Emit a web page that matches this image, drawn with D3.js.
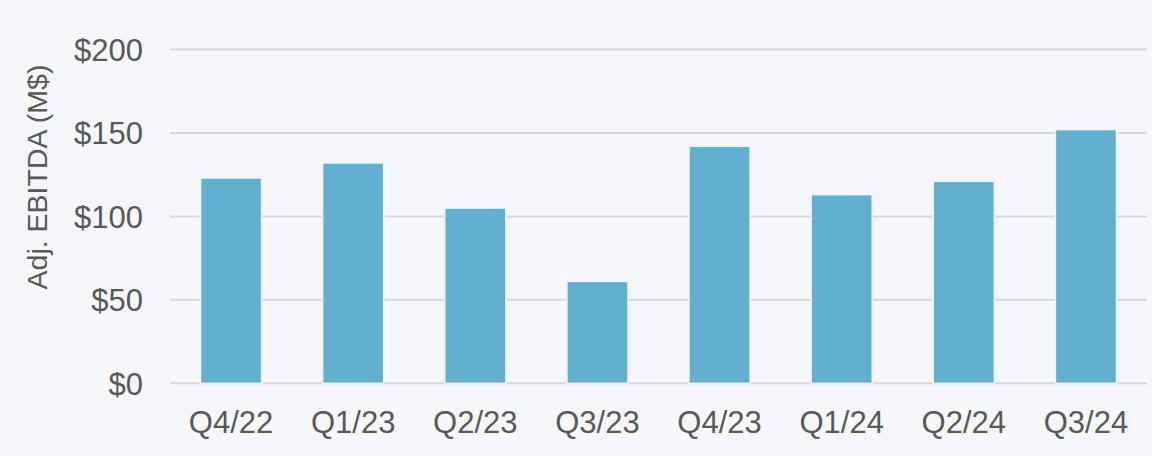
<!DOCTYPE html>
<html><head><meta charset="utf-8">
<script src="https://cdn.jsdelivr.net/npm/d3@7"></script>
<style>html,body{margin:0;padding:0;background:#f6f7fb;}svg{display:block;}</style>
</head><body><svg id="c" width="1152" height="456"></svg>
<script>
const categories = ["Q4/22","Q1/23","Q2/23","Q3/23","Q4/23","Q1/24","Q2/24","Q3/24"];
const values = [123, 132, 105, 61, 142, 113, 121, 152];
const yTicks = [0, 50, 100, 150, 200];
const yTitle = "Adj. EBITDA (M$)";

const svg = d3.select("#c");
const W = 1152, H = 456;
svg.append("rect").attr("width", W).attr("height", H).attr("fill", "#f6f7fb");
const m = {left:170, right:1147, top:49.5, bottom:383.3};
const x = d3.scaleBand().domain(categories).range([m.left, m.right]).paddingInner(0.5).paddingOuter(0.25);
const y = d3.scaleLinear().domain([0,200]).range([m.bottom, m.top]);

const font = "Liberation Sans, Arial, sans-serif";
// gridlines
svg.append("g").selectAll("line").data(yTicks).join("line")
  .attr("x1", m.left).attr("x2", m.right)
  .attr("y1", d=>y(d)).attr("y2", d=>y(d))
  .attr("stroke", "#d9d9d9").attr("stroke-width", 2);
// bars
svg.append("g").selectAll("rect").data(values).join("rect")
  .attr("x", (d,i)=>x(categories[i])).attr("width", x.bandwidth())
  .attr("y", d=>y(d)).attr("height", d=>y(0)-y(d))
  .attr("fill", "#62afd0").attr("stroke", "#eaf4fa").attr("stroke-width", 1.5);
// y axis
const ya = svg.append("g").attr("transform", `translate(${143},0)`)
  .call(d3.axisLeft(y).tickValues(yTicks).tickFormat(d=>"$"+d).tickSize(0).tickPadding(0));
ya.select(".domain").remove();
ya.selectAll("text").attr("font-family", font).attr("font-size", 31).attr("fill", "#595959").attr("dy","0.35em");
// x axis
const xa = svg.append("g").attr("transform", `translate(0,${m.bottom})`)
  .call(d3.axisBottom(x).tickSize(0).tickPadding(0));
xa.select(".domain").remove();
xa.selectAll("text").attr("font-family", font).attr("font-size", 31).attr("fill", "#595959").attr("dy", null).attr("y", 49.5);
// y title
svg.append("text").attr("transform", `translate(47,177) rotate(-90)`)
  .attr("text-anchor","middle").attr("font-family", font).attr("font-size", 28.5).attr("fill", "#595959")
  .text(yTitle);
</script></body></html>
